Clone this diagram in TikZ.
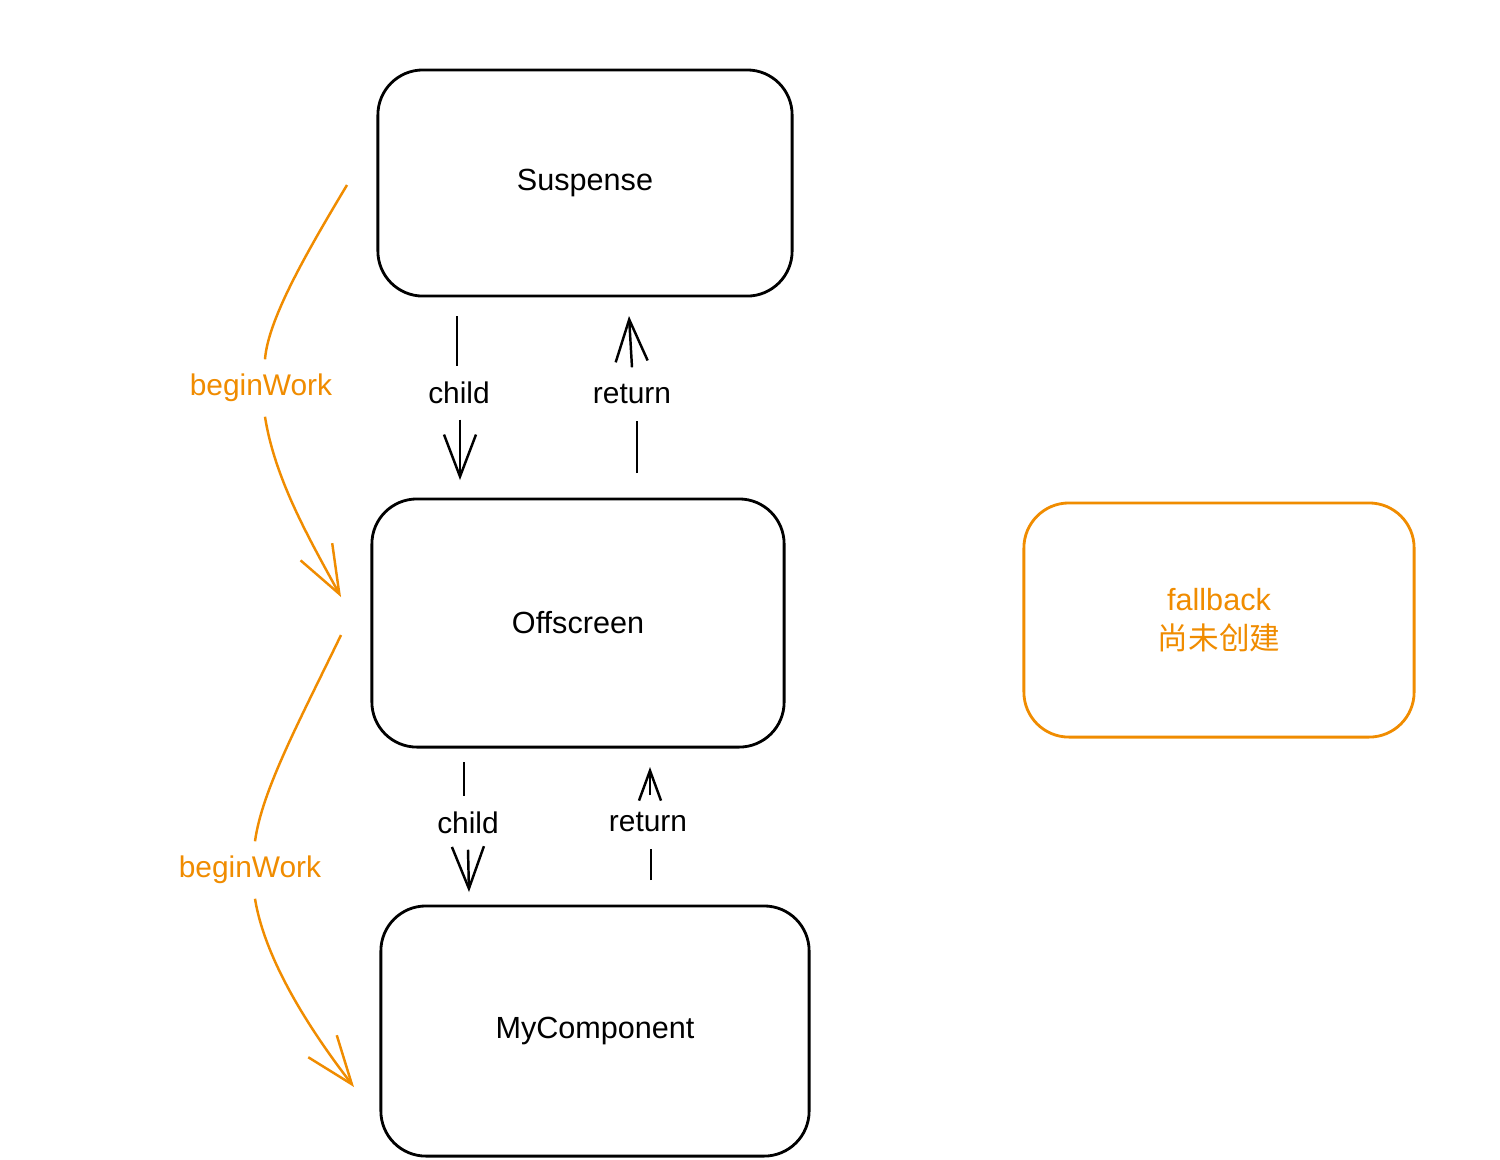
\documentclass[tikz,border=0pt]{standalone}
\usepackage{fontspec}
\setmainfont{Liberation Sans}
\newfontfamily\cjk{Noto Sans CJK SC}
\usetikzlibrary{arrows.meta}
\definecolor{exorange}{RGB}{240,140,0}
\begin{document}
\begin{tikzpicture}[x=0.01cm,y=-0.01cm,
  box/.style={draw=black,line width=0.8pt,rounded corners=0.45cm,fill=white},
  obox/.style={draw=exorange,line width=0.8pt,rounded corners=0.45cm,text=exorange},
  txt/.style={font=\fontsize{8.7}{10.5}\selectfont},
  lbl/.style={font=\fontsize{8.5}{10}\selectfont,inner xsep=1pt,inner ysep=0pt,minimum height=0.52cm},
  olbl/.style={lbl,text=exorange,minimum height=0.56cm},
  conn/.style={line width=0.7pt,draw=black},
  arr/.style={conn,-{Straight Barb[length=4.2mm,width=3.2mm]}},
  sarr/.style={conn,-{Straight Barb[length=3mm,width=2.2mm]}},
  oconn/.style={line width=0.7pt,draw=exorange},
  oarr/.style={oconn,-{Straight Barb[length=4.8mm,width=3.6mm]}}
]
\useasboundingbox (0,0) rectangle (1500,1159);
\fill[white] (0,0) rectangle (1500,1159);

% boxes
\node[box,txt,minimum width=4.14cm,minimum height=2.26cm] (sus) at (585,183) {Suspense};
\node[box,txt,minimum width=4.12cm,minimum height=2.48cm] (off) at (578,623) {Offscreen};
\node[box,txt,minimum width=4.28cm,minimum height=2.50cm] (myc) at (595,1031) {MyComponent};
\node[obox,txt,align=center,minimum width=3.90cm,minimum height=2.34cm] (fb) at (1219,620)
  {fallback\\[0.5pt]{\cjk 尚未创建}};

% child / return between Suspense and Offscreen
\node[lbl] (ch1) at (459,393) {child};
\node[lbl] (re1) at (632,394) {return};
\coordinate (ch1a) at (457,316);
\coordinate (ch1b) at (460,480);
\coordinate (re1a) at (637,473);
\coordinate (re1b) at (629,316);
\draw[conn] (ch1a) -- (ch1a |- ch1.north);
\draw[arr] (ch1b |- ch1.south) -- (ch1b);
\draw[conn] (re1a) -- (re1a |- re1.south);
\draw[arr] (re1.north) -- (re1b);

% child / return between Offscreen and MyComponent
\node[lbl] (ch2) at (468,823) {child};
\node[lbl] (re2) at (648,822) {return};
\coordinate (ch2a) at (464,762);
\coordinate (ch2b) at (469,892);
\coordinate (re2a) at (651,880);
\coordinate (re2b) at (650,767);
\draw[conn] (ch2a) -- (ch2a |- ch2.north);
\draw[arr] (ch2.south) -- (ch2b);
\draw[conn] (re2a) -- (re2a |- re2.south);
\draw[sarr] (re2b |- re2.north) -- (re2b);

% beginWork arrows
\node[olbl] (bw1) at (261,388) {beginWork};
\node[olbl] (bw2) at (250,870) {beginWork};
\coordinate (bw1a) at (347,185);
\coordinate (bw1b) at (341,597);
\coordinate (bw2a) at (341,635);
\coordinate (bw2b) at (354,1087);
\draw[oconn] (bw1a) .. controls (305,255) and (268,320) .. (bw1.north -| 265,0);
\draw[oarr] (bw1.south -| 265,0) .. controls (275,480) and (310,540) .. (bw1b);
\draw[oconn] (bw2a) .. controls (300,720) and (262,790) .. (bw2.north -| 255,0);
\draw[oarr] (bw2.south -| 255,0) .. controls (265,960) and (310,1030) .. (bw2b);
\end{tikzpicture}
\end{document}
